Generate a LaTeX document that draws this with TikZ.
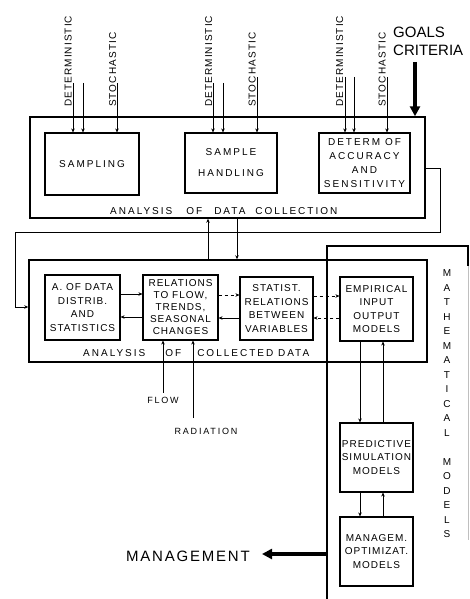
\documentclass[tikz,border=0pt]{standalone}
\usepackage{fontspec}
\setmainfont{Liberation Sans}
\newfontfamily\boxfont[LetterSpace=20]{Liberation Sans}
\newfontfamily\lowfont[LetterSpace=10]{Liberation Sans}
\newfontfamily\sidefont[LetterSpace=11]{Liberation Sans}
\newfontfamily\mgmtfont[LetterSpace=12]{Liberation Sans}
\usetikzlibrary{arrows.meta,calc}

\begin{document}
\begin{tikzpicture}[x=1pt, y=-1pt,
  frame/.style={draw, line width=1.4pt, inner sep=0pt},
  topbox/.style={draw, line width=1.1pt, inner sep=0pt, align=center, font=\boxfont\fontsize{10}{14}\selectfont},
  lowbox/.style={draw, line width=1.1pt, inner sep=0pt, align=center, font=\lowfont\fontsize{10}{13.5}\selectfont},
  inlbl/.style={rotate=90, anchor=base west, inner sep=0pt, font=\sidefont\fontsize{10}{12}\selectfont},
  caption/.style={anchor=base west, inner sep=0pt, font=\boxfont\fontsize{10}{12}\selectfont},
  link/.style={line width=0.9pt, -{Stealth[length=4pt,width=3.5pt]}},
  dlink/.style={link, dashed},
  bigarrow/.style={line width=3.5pt, -{Triangle[length=10pt,width=10pt]}}]
        \useasboundingbox (0,0) rectangle (470,599);

        % Analysis of data collection
        \node[frame, minimum width=395, minimum height=101] (dcol) at (227.5,167.5) {};
        \node[topbox, minimum width=94, minimum height=62] (smp) at (92,164) {SAMPLING};
        \node[topbox, minimum width=92, minimum height=60] (hdl) at (231,163) {SAMPLE\\[7pt]HANDLING};
        \node[topbox, minimum width=91, minimum height=60] (acc) at (364.5,163) {DETERM OF\\ACCURACY\\AND\\SENSITIVITY};
        \node[caption] (dcollbl) at (110,214) {ANALYSIS\hspace{14pt}OF\hspace{12pt}DATA\hspace{10pt}COLLECTION};

        % Inputs
        \foreach \x/\t [count=\i] in {71.5/DETERMINISTIC, 116/STOCHASTIC, 212/DETERMINISTIC, 255.5/STOCHASTIC, 343/DETERMINISTIC, 385.5/STOCHASTIC}
            \node[inlbl] (in\i) at (\x,107) {\t};
        \foreach \x/\y/\b in {73/83/smp, 83/83/smp, 117/83/smp, 213/83/hdl, 223/83/hdl, 257/77/hdl, 345/77/acc, 354/77/acc, 387/77/acc}
            \draw[link] (\x,\y) -- (\b.north -| \x,0);

        % Goals
        \node[anchor=north west, inner sep=0pt, align=left, font=\fontsize{15}{18}\selectfont] (goals) at (393,27) {GOALS\\CRITERIA};
        \draw[bigarrow] (415,62) -- (dcol.north -| 415,0);

        % Analysis of collected data
        \node[frame, minimum width=398, minimum height=102] (dana) at (228,311) {};
        \node[lowbox, minimum width=75, minimum height=65] (dist) at (82.5,307.5) {A. OF DATA\\DISTRIB.\\AND\\STATISTICS};
        \node[lowbox, minimum width=75, minimum height=65, font=\lowfont\fontsize{10}{12}\selectfont] (rel) at (180.5,307.5) {RELATIONS\\TO FLOW,\\TRENDS,\\SEASONAL\\CHANGES};
        \node[lowbox, minimum width=73, minimum height=63] (stat) at (276.5,308.5) {STATIST.\\RELATIONS\\BETWEEN\\VARIABLES};
        \node[lowbox, minimum width=73, minimum height=64] (emp) at (376.5,309) {EMPIRICAL\\INPUT\\OUTPUT\\MODELS};
        \node[caption] (danalbl) at (83,356) {ANALYSIS\hspace{20pt}OF\hspace{16pt}COLLECTED DATA};

        \draw[link] (dana.north -| 208,0) -- (dcol.south -| 208,0);
        \draw[link] (dcol.south -| 237,0) -- (dana.north -| 237,0);
        \draw[link] (dcol.east |- 0,168) -| (440,232) -| (15,307) -- (dana.west |- 0,307);

        \draw[link] (dist.east |- 0,294) -- (rel.west |- 0,294);
        \draw[link] (rel.west |- 0,317) -- (dist.east |- 0,317);
        \draw[dlink] (rel.east |- 0,295) -- (stat.west |- 0,295);
        \draw[link] (stat.west |- 0,318) -- (rel.east |- 0,318);
        \draw[dlink] (stat.east |- 0,296) -- (emp.west |- 0,296);
        \draw[dlink] (emp.west |- 0,318) -- (stat.east |- 0,318);

        % Flow and radiation
        \node[inner sep=0pt, font=\boxfont\fontsize{9}{11}\selectfont] (flow) at (163,400) {FLOW};
        \draw[link] ([yshift=4pt]flow.north) -- (rel.south -| flow.north);
        \node[inner sep=0pt, font=\boxfont\fontsize{9}{11}\selectfont] (rad) at (206,431) {RADIATION};
        \coordinate (radin) at (193,418);
        \draw[link] (radin) -- (rel.south -| radin);

        % Mathematical models
        \coordinate (mmcorner) at (327,246);
        \draw[line width=1.4pt] (327,599) -- (mmcorner) -- (468,246) -- (468,266);
        \draw[line width=0.8pt, black!25] (468,266) -- (468,540);
        \node[align=center, inner sep=0pt, font=\fontsize{10}{14.5}\selectfont] (mmlbl) at (447,404)
            {M\\A\\T\\H\\E\\M\\A\\T\\I\\C\\A\\L\\[14.5pt]M\\O\\D\\E\\L\\S};
        \node[lowbox, minimum width=73, minimum height=69] (pred) at (376.5,457.5) {PREDICTIVE\\SIMULATION\\MODELS};
        \node[lowbox, minimum width=73, minimum height=69] (man) at (376.5,551.5) {MANAGEM.\\OPTIMIZAT.\\MODELS};

        \draw[link] (emp.south -| 360,0) -- (pred.north -| 360,0);
        \draw[link] (pred.north -| 383,0) -- (emp.south -| 383,0);
        \draw[link] (pred.south -| 360,0) -- (man.north -| 360,0);
        \draw[link] (man.north -| 383,0) -- (pred.south -| 383,0);

        % Management
        \node[anchor=base east, inner sep=0pt, font=\mgmtfont\fontsize{15}{18}\selectfont] (mgmt) at (250,561) {MANAGEMENT};
        \draw[bigarrow, shorten >=12pt] (mmcorner |- 0,554) -- (mgmt.east |- 0,554);
\end{tikzpicture}
\end{document}
